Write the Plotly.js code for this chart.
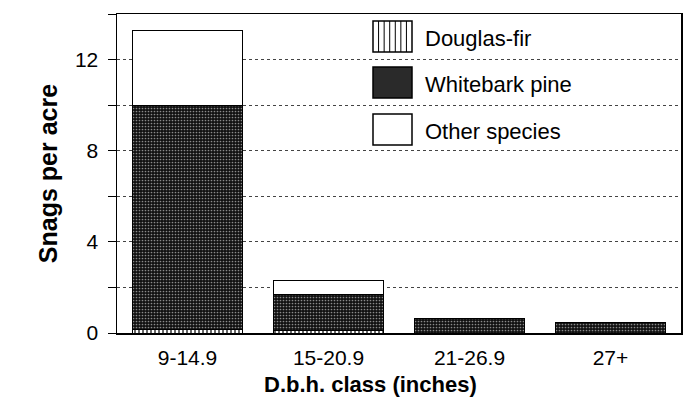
<!DOCTYPE html>
<html>
<head>
<meta charset="utf-8">
<script src="https://cdn.plot.ly/plotly-3.0.1.min.js"></script>
<style>html,body{margin:0;padding:0;background:#fff;}#chart{width:696px;height:400px;}</style>
</head>
<body>
<div id="chart"></div>
<script>
// ---- data ----
const categories = ['9-14.9', '15-20.9', '21-26.9', '27+'];
const douglasFir = [0.15, 0.13, 0, 0];
const whitebarkPine = [9.85, 1.57, 0.65, 0.44];
const otherSpecies = [3.27, 0.6, 0, 0];
const seriesNames = ['Douglas-fir', 'Whitebark pine', 'Other species'];
const yTickVals = [0, 4, 8, 12];
const yTickText = ['0', '4', '8', '12'];
const xTitle = 'D.b.h. class (inches)';
const yTitle = 'Snags per acre';

const FONT = 'Liberation Sans, Arial, Helvetica, sans-serif';
const lineStyle = {color: '#000', width: 1};

const traces = [
  {type: 'bar', name: seriesNames[0], x: categories, y: douglasFir,
   marker: {color: '#fff', line: lineStyle,
            pattern: {shape: '|', fgcolor: '#000', bgcolor: '#fff', size: 4, solidity: 0.3}}},
  {type: 'bar', name: seriesNames[1], x: categories, y: whitebarkPine,
   marker: {color: '#222', line: lineStyle,
            pattern: {shape: '.', fgcolor: '#8a8a8a', bgcolor: '#111', size: 3, solidity: 0.25}}},
  {type: 'bar', name: seriesNames[2], x: categories, y: otherSpecies,
   marker: {color: '#fff', line: lineStyle}}
];

// plot area in pixels: x 117..681, y 14..333
const L = 117, R = 681, T = 14, B = 333;
const px = X => (X - L) / (R - L);
const py = Y => (B - Y) / (B - T);

const shapes = [];
const annotations = [];
const swatches = [
  {x0: 373, x1: 412, y0: 21, y1: 52, fill: '#fff', ty: 39},
  {x0: 373, x1: 412, y0: 67, y1: 98, fill: '#2a2a2a', ty: 84},
  {x0: 373, x1: 412, y0: 114, y1: 145, fill: '#fff', ty: 131}
];
swatches.forEach((s, i) => {
  shapes.push({type: 'rect', xref: 'paper', yref: 'paper',
    x0: px(s.x0), x1: px(s.x1), y0: py(s.y1), y1: py(s.y0),
    fillcolor: s.fill, line: {color: '#000', width: 1.5}, layer: 'above'});
  if (i === 0) {
    for (let k = 1; k <= 6; k++) {
      const xx = s.x0 + k * (s.x1 - s.x0) / 7;
      shapes.push({type: 'line', xref: 'paper', yref: 'paper',
        x0: px(xx), x1: px(xx), y0: py(s.y1), y1: py(s.y0),
        line: {color: '#000', width: 1}, layer: 'above'});
    }
  }
  annotations.push({xref: 'paper', yref: 'paper', x: px(423), y: py(s.ty),
    xanchor: 'left', yanchor: 'middle', showarrow: false, text: seriesNames[i],
    font: {family: FONT, size: 22, color: '#000'}});
});
// x-axis title (offset left of plot centre, as in the original)
annotations.push({xref: 'paper', yref: 'paper', x: px(370), y: py(384),
  xanchor: 'center', yanchor: 'middle', showarrow: false,
  text: '<b>' + xTitle + '</b>', font: {family: FONT, size: 22, color: '#000'}});

const layout = {
  width: 696, height: 400,
  margin: {l: L, r: 696 - R, t: T, b: 400 - B},
  paper_bgcolor: '#fff', plot_bgcolor: '#fff',
  barmode: 'stack', bargap: 0.22,
  showlegend: false,
  font: {family: FONT, color: '#000'},
  xaxis: {
    showline: true, mirror: true, linecolor: '#000', linewidth: 1.5,
    ticks: 'outside', ticklen: 5, tickcolor: 'rgba(0,0,0,0)', showgrid: false,
    tickfont: {family: FONT, size: 21, color: '#000'}
  },
  yaxis: {
    range: [0, 14], showline: true, mirror: true, linecolor: '#000', linewidth: 1.5,
    tickvals: yTickVals, ticktext: yTickText,
    ticks: 'outside', ticklen: 8, tickcolor: '#000', tickwidth: 1,
    ticklabelstandoff: 5,
    tickfont: {family: FONT, size: 21, color: '#000'},
    showgrid: true, gridcolor: '#444', gridwidth: 1, griddash: '3px,3px',
    zeroline: false,
    minor: {dtick: 2, ticks: 'outside', ticklen: 8, tickcolor: '#000',
            showgrid: true, gridcolor: '#444', gridwidth: 1, griddash: '3px,3px'},
    title: {text: '<b>' + yTitle + '</b>', font: {family: FONT, size: 25, color: '#000'}, standoff: 10}
  },
  shapes: shapes,
  annotations: annotations
};

Plotly.newPlot('chart', traces, layout, {displayModeBar: false, staticPlot: true});
</script>
</body>
</html>
